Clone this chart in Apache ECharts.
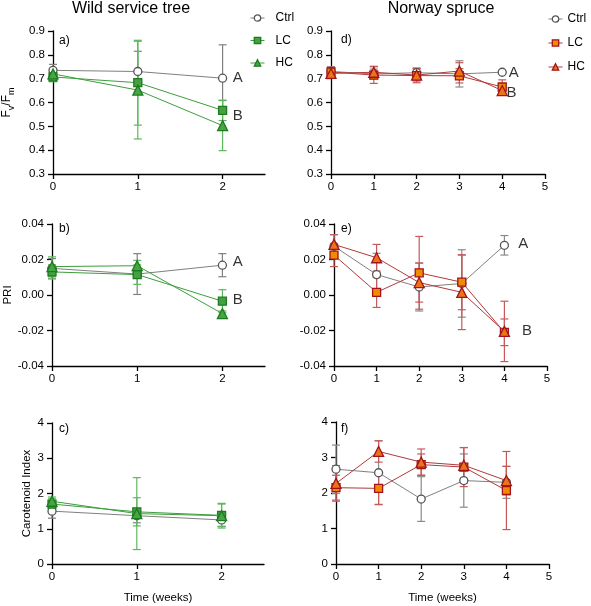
<!DOCTYPE html>
<html><head><meta charset="utf-8">
<script src="https://cdn.jsdelivr.net/npm/echarts@6/dist/echarts.min.js"></script>
<style>html,body{margin:0;padding:0;background:#fff}#c{width:591px;height:606px}</style>
</head><body><div id="c"></div>
<script>
// ---------- DATA ----------
const treatments = ['Ctrl', 'LC', 'HC'];
const weeksWild = [0, 1, 2];
const weeksSpruce = [0, 1, 2, 3, 4];
const xTicksWild = [0, 1, 2];
const xTicksSpruce = [0, 1, 2, 3, 4, 5];

// a) Wild service tree, Fv/Fm
const wildFvCtrl = [0.735, 0.730, 0.702];
const wildFvCtrlSd = [0.025, 0.085, 0.140];
const wildFvLC = [0.707, 0.683, 0.567];
const wildFvLCSd = [0.020, 0.178, 0.043];
const wildFvHC = [0.720, 0.652, 0.503];
const wildFvHCSd = [0.020, 0.205, 0.105];

// b) Wild service tree, PRI
const wildPriCtrl = [0.0150, 0.0118, 0.0168];
const wildPriCtrlSd = [0.0055, 0.0115, 0.0065];
const wildPriLC = [0.0130, 0.0115, -0.0035];
const wildPriLCSd = [0.0040, 0.0055, 0.0065];
const wildPriHC = [0.0160, 0.0165, -0.0105];
const wildPriHCSd = [0.0055, 0.0030, 0.0015];

// c) Wild service tree, Carotenoid Index
const wildCarCtrl = [1.50, 1.37, 1.25];
const wildCarCtrlSd = [0.20, 0.20, 0.18];
const wildCarLC = [1.70, 1.48, 1.38];
const wildCarLCSd = [0.15, 0.40, 0.32];
const wildCarHC = [1.78, 1.43, 1.37];
const wildCarHCSd = [0.12, 1.02, 0.35];

// d) Norway spruce, Fv/Fm
const spruceFvCtrl = [0.730, 0.720, 0.725, 0.720, 0.727];
const spruceFvCtrlSd = [0.020, 0.020, 0.020, 0.055, 0.000];
const spruceFvLC = [0.728, 0.715, 0.713, 0.712, 0.665];
const spruceFvLCSd = [0.020, 0.035, 0.030, 0.030, 0.030];
const spruceFvHC = [0.722, 0.727, 0.715, 0.732, 0.650];
const spruceFvHCSd = [0.020, 0.025, 0.025, 0.035, 0.010];

// e) Norway spruce, PRI
const sprucePriCtrl = [0.0275, 0.0115, 0.0045, 0.0065, 0.0280];
const sprucePriCtrlSd = [0.0065, 0.0120, 0.0135, 0.0190, 0.0055];
const sprucePriLC = [0.0225, 0.0015, 0.0125, 0.0072, -0.0210];
const sprucePriLCSd = [0.0065, 0.0085, 0.0205, 0.0155, 0.0075];
const sprucePriHC = [0.0285, 0.0210, 0.0070, 0.0015, -0.0205];
const sprucePriHCSd = [0.0055, 0.0075, 0.0110, 0.0210, 0.0170];

// f) Norway spruce, Carotenoid Index
const spruceCarCtrl = [2.67, 2.57, 1.83, 2.35, 2.30];
const spruceCarCtrlSd = [0.68, 0.90, 0.63, 0.75, 0.45];
const spruceCarLC = [2.15, 2.13, 2.80, 2.73, 2.07];
const spruceCarLCSd = [0.35, 0.45, 0.30, 0.55, 1.10];
const spruceCarHC = [2.27, 3.17, 2.87, 2.78, 2.35];
const spruceCarHCSd = [0.50, 0.30, 0.37, 0.50, 0.40];

const groupLetters = ['A', 'B'];

// ---------- STYLES ----------
const FONT = 'Liberation Sans, Arial, sans-serif';
const styles = {
  wild: {
    Ctrl: { symbol: 'circle', size: 8, fill: '#ffffff', border: '#555555', line: '#808080', err: '#808080' },
    LC:   { symbol: 'rect', size: 8, fill: '#43a043', border: '#1f7a1f', line: '#3d9e3d', err: '#5db85d' },
    HC:   { symbol: 'triangle', size: 10, fill: '#43a843', border: '#1f7a1f', line: '#3d9e3d', err: '#5db85d' }
  },
  spruce: {
    Ctrl: { symbol: 'circle', size: 8, fill: '#ffffff', border: '#555555', line: '#808080', err: '#8a8a8a' },
    LC:   { symbol: 'rect', size: 8, fill: '#f28a00', border: '#a0141b', line: '#b03a3a', err: '#c65a5a' },
    HC:   { symbol: 'triangle', size: 10, fill: '#ec7414', border: '#a0141b', line: '#b03a3a', err: '#c65a5a' }
  }
};

const panels = [
  { key: 'a', kind: 'wild', x: weeksWild, xTicks: xTicksWild, xMax: 2.5,
    grid: { left: 52, top: 31, width: 213, height: 143 },
    y: { min: 0.3, max: 0.9, interval: 0.1, dec: 1 }, yName: 'fv', yGap: 37,
    series: { Ctrl: [wildFvCtrl, wildFvCtrlSd], LC: [wildFvLC, wildFvLCSd], HC: [wildFvHC, wildFvHCSd] },
    letters: [[2.18, 0.703], [2.18, 0.543]], label: [59, 41] },
  { key: 'b', kind: 'wild', x: weeksWild, xTicks: xTicksWild, xMax: 2.5,
    grid: { left: 52, top: 224, width: 213, height: 142 },
    y: { min: -0.04, max: 0.04, interval: 0.02, dec: 2 }, yName: 'PRI', yGap: 38,
    series: { Ctrl: [wildPriCtrl, wildPriCtrlSd], LC: [wildPriLC, wildPriLCSd], HC: [wildPriHC, wildPriHCSd] },
    letters: [[2.18, 0.0186], [2.18, -0.0028]], label: [59, 229] },
  { key: 'c', kind: 'wild', x: weeksWild, xTicks: xTicksWild, xMax: 2.5,
    grid: { left: 52, top: 423, width: 212, height: 141 },
    y: { min: 0, max: 4, interval: 1, dec: 0 }, yName: 'Carotenoid Index', yGap: 19, xName: 'Time (weeks)',
    series: { Ctrl: [wildCarCtrl, wildCarCtrlSd], LC: [wildCarLC, wildCarLCSd], HC: [wildCarHC, wildCarHCSd] },
    letters: [], label: [59, 429] },
  { key: 'd', kind: 'spruce', x: weeksSpruce, xTicks: xTicksSpruce, xMax: 5,
    grid: { left: 331, top: 31, width: 214, height: 143 },
    y: { min: 0.3, max: 0.9, interval: 0.1, dec: 1 },
    series: { Ctrl: [spruceFvCtrl, spruceFvCtrlSd], LC: [spruceFvLC, spruceFvLCSd], HC: [spruceFvHC, spruceFvHCSd] },
    letters: [[4.27, 0.724], [4.22, 0.64]], label: [341, 40] },
  { key: 'e', kind: 'spruce', x: weeksSpruce, xTicks: xTicksSpruce, xMax: 5,
    grid: { left: 334, top: 224, width: 213, height: 142 },
    y: { min: -0.04, max: 0.04, interval: 0.02, dec: 2 },
    series: { Ctrl: [sprucePriCtrl, sprucePriCtrlSd], LC: [sprucePriLC, sprucePriLCSd], HC: [sprucePriHC, sprucePriHCSd] },
    letters: [[4.44, 0.0287], [4.53, -0.0203]], label: [341, 229] },
  { key: 'f', kind: 'spruce', x: weeksSpruce, xTicks: xTicksSpruce, xMax: 5,
    grid: { left: 336, top: 422, width: 213, height: 142 },
    y: { min: 0, max: 4, interval: 1, dec: 0 }, xName: 'Time (weeks)',
    series: { Ctrl: [spruceCarCtrl, spruceCarCtrlSd], LC: [spruceCarLC, spruceCarLCSd], HC: [spruceCarHC, spruceCarHCSd] },
    letters: [], label: [341, 429] }
];

// ---------- BUILD ----------
const axisLineStyle = { color: '#000', width: 1.3 };
const grids = [], xAxes = [], yAxes = [], series = [], graphics = [];

function errRender(params, api) {
  const x = api.value(0), lo = api.value(1), hi = api.value(2);
  const p1 = api.coord([x, lo]), p2 = api.coord([x, hi]);
  const w = 4;
  const st = { stroke: api.visual('color'), lineWidth: 1.2 };
  return { type: 'group', children: [
    { type: 'line', shape: { x1: p1[0], y1: p1[1], x2: p2[0], y2: p2[1] }, style: st },
    { type: 'line', shape: { x1: p1[0] - w, y1: p1[1], x2: p1[0] + w, y2: p1[1] }, style: st },
    { type: 'line', shape: { x1: p2[0] - w, y1: p2[1], x2: p2[0] + w, y2: p2[1] }, style: st }
  ]};
}

panels.forEach((p, i) => {
  grids.push(Object.assign({ containLabel: false }, p.grid));
  xAxes.push({
    type: 'value', gridIndex: i, min: 0, max: p.xMax, interval: 1,
    axisLine: { show: true, onZero: false, lineStyle: axisLineStyle },
    axisTick: { show: true, length: 5, lineStyle: axisLineStyle, customValues: p.xTicks },
    axisLabel: { color: '#000', fontSize: 11.5, fontFamily: FONT, margin: 7, customValues: p.xTicks },
    splitLine: { show: false },
    name: p.xName || '', nameLocation: 'middle', nameGap: 28,
    nameTextStyle: { color: '#000', fontSize: 11.5, fontFamily: FONT }
  });
  let yName = p.yName || '';
  let nameTextStyle = { color: '#000', fontSize: 11.5, fontFamily: FONT };
  if (yName === 'fv') {
    yName = '{a|F}{s|v}{a|/F}{s|m}';
    nameTextStyle.rich = {
      a: { fontSize: 12, fontFamily: FONT, color: '#000', lineHeight: 18, verticalAlign: 'middle' },
      s: { fontSize: 9, fontFamily: FONT, color: '#000', lineHeight: 18, verticalAlign: 'bottom' }
    };
  }
  yAxes.push({
    type: 'value', gridIndex: i, min: p.y.min, max: p.y.max, interval: p.y.interval,
    axisLine: { show: true, onZero: false, lineStyle: axisLineStyle },
    axisTick: { show: true, length: 5, lineStyle: axisLineStyle },
    axisLabel: { color: '#000', fontSize: 11.5, fontFamily: FONT, margin: 8,
      formatter: v => Number(v).toFixed(p.y.dec) },
    splitLine: { show: false },
    name: yName, nameLocation: 'middle', nameGap: p.yGap || 30, nameRotate: 90,
    nameTextStyle: nameTextStyle
  });
  treatments.forEach(t => {
    const s = styles[p.kind][t];
    const [means, sds] = p.series[t];
    series.push({
      name: t + ' err', type: 'custom', xAxisIndex: i, yAxisIndex: i, z: 2,
      renderItem: errRender, itemStyle: { color: s.err }, silent: true,
      encode: { x: 0, y: [1, 2] },
      data: p.x.map((x, k) => [x, means[k] - sds[k], means[k] + sds[k]])
    });
  });
  treatments.forEach((t, ti) => {
    const s = styles[p.kind][t];
    const [means] = p.series[t];
    series.push({
      name: t, type: 'line', xAxisIndex: i, yAxisIndex: i, z: 3 + ti,
      symbol: s.symbol, symbolSize: s.size, showSymbol: true, animation: false,
      itemStyle: { color: s.fill, borderColor: s.border, borderWidth: 1.3 },
      lineStyle: { color: s.line, width: 1 },
      data: p.x.map((x, k) => [x, means[k]])
    });
  });
  if (p.letters.length) {
    series.push({
      name: 'letters', type: 'scatter', xAxisIndex: i, yAxisIndex: i, symbolSize: 0, silent: true,
      label: { show: true, position: 'inside', formatter: '{b}', color: '#000', fontSize: 15, fontFamily: FONT },
      data: p.letters.map((c, k) => ({ name: groupLetters[k], value: c }))
    });
  }
  graphics.push({ type: 'text', x: p.label[0], y: p.label[1],
    style: { text: p.key + ')', fontSize: 12, fontFamily: FONT, fill: '#000', align: 'left', verticalAlign: 'middle' } });
});

graphics.push({ type: 'text', x: 131, y: 9,
  style: { text: 'Wild service tree', fontSize: 16, fontFamily: FONT, fill: '#000', align: 'center', verticalAlign: 'middle' } });
graphics.push({ type: 'text', x: 441, y: 9,
  style: { text: 'Norway spruce', fontSize: 16, fontFamily: FONT, fill: '#000', align: 'center', verticalAlign: 'middle' } });

function legendData(kind) {
  return treatments.map(t => {
    const s = styles[kind][t];
    return { name: t, itemStyle: { color: s.fill, borderColor: s.border, borderWidth: 1.3 },
      lineStyle: { color: s.line, width: 1 } };
  });
}

const chart = echarts.init(document.getElementById('c'), null, { renderer: 'canvas' });
chart.setOption({
  animation: false,
  backgroundColor: '#fff',
  grid: grids, xAxis: xAxes, yAxis: yAxes, series: series,
  graphic: graphics,
  legend: [
    { data: legendData('wild'), orient: 'vertical', left: 250, top: 12, padding: 0,
      itemWidth: 14, itemHeight: 8, itemGap: 10.5, selectedMode: false,
      textStyle: { color: '#000', fontSize: 12, fontFamily: FONT, padding: [0, 0, 0, 6] } },
    { data: legendData('spruce'), orient: 'vertical', left: 548, top: 13, padding: 0,
      itemWidth: 14, itemHeight: 8, itemGap: 12, selectedMode: false,
      textStyle: { color: '#000', fontSize: 12, fontFamily: FONT } }
  ]
});
</script></body></html>
